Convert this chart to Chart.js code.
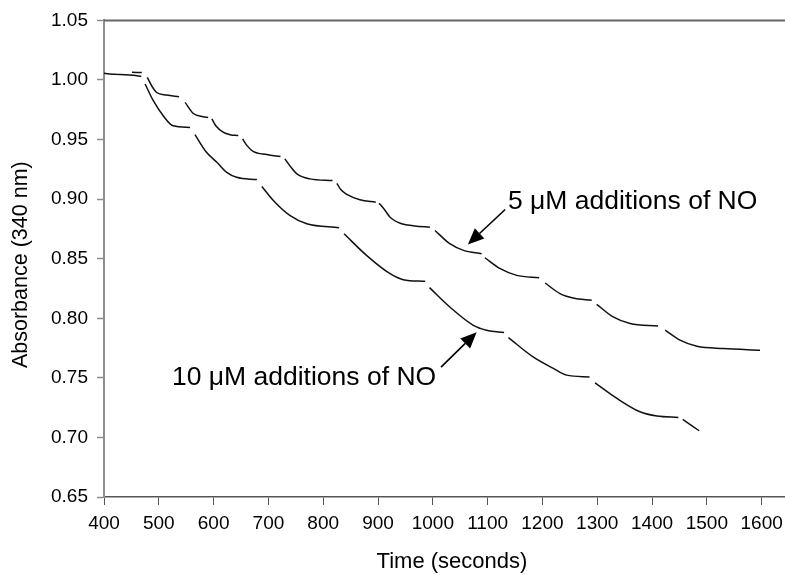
<!DOCTYPE html>
<html>
<head>
<meta charset="utf-8">
<script src="https://cdn.jsdelivr.net/npm/chart.js@4.4.1/dist/chart.umd.min.js"></script>
<style>
  html, body { margin: 0; padding: 0; background: #fff; overflow: hidden; }
  #wrap { width: 800px; height: 575px; }
</style>
</head>
<body>
<div id="wrap"><canvas id="chart" width="800" height="575"></canvas></div>
<script>
// traces, null = break in the trace (NO addition)
const time10 = [400, 420, 438, 453, 468, null,
  475, 490, 508, 526, 557, null,
  566, 587, 606, 624, 642, 679, null,
  688, 709, 739, 770, 829, null,
  838, 879, 922, 946, 986, null,
  994, 1031, 1074, 1098, 1130, null,
  1138, 1183, 1220, 1244, 1286, null,
  1296, 1336, 1378, 1409, 1448, null,
  1456, 1486];
const abs10 = [1.0056, 1.0048, 1.0044, 1.0039, 1.0031, null,
  0.9966, 0.9826, 0.9700, 0.9616, 0.9602, null,
  0.9541, 0.9393, 0.9309, 0.9225, 0.9183, 0.9164, null,
  0.9106, 0.8988, 0.8863, 0.8793, 0.8760, null,
  0.8709, 0.8528, 0.8374, 0.8324, 0.8310, null,
  0.8257, 0.8095, 0.7941, 0.7900, 0.7880, null,
  0.7838, 0.7676, 0.7579, 0.7523, 0.7508, null,
  0.7458, 0.7327, 0.7215, 0.7179, 0.7168, null,
  0.7152, 0.7056];

const time5 = [451, 469, null,
  479, 488, 496, 514, 537, null,
  548, 563, 581, 590, null,
  597, 604, 618, 630, 645, null,
  653, 661, 672, 697, 722, null,
  730, 739, 752, 776, 817, null,
  825, 832, 843, 867, 896, null,
  902, 913, 922, 943, 967, 995, null,
  1004, 1031, 1056, 1089, null,
  1095, 1123, 1153, 1194, null,
  1205, 1232, 1256, 1290, null,
  1299, 1329, 1360, 1411, null,
  1424, 1451, 1482, 1530, 1597];
const abs5 = [1.0064, 1.0062, null,
  1.0021, 0.9943, 0.9895, 0.9874, 0.9859, null,
  0.9812, 0.9719, 0.9692, 0.9686, null,
  0.9673, 0.9616, 0.9560, 0.9541, 0.9533, null,
  0.9505, 0.9449, 0.9401, 0.9374, 0.9357, null,
  0.9338, 0.9281, 0.9212, 0.9170, 0.9156, null,
  0.9133, 0.9080, 0.9039, 0.8994, 0.8974, null,
  0.8966, 0.8905, 0.8848, 0.8793, 0.8775, 0.8765, null,
  0.8737, 0.8626, 0.8570, 0.8542, null,
  0.8508, 0.8416, 0.8360, 0.8341, null,
  0.8296, 0.8207, 0.8170, 0.8151, null,
  0.8117, 0.8011, 0.7956, 0.7935, null,
  0.7900, 0.7816, 0.7765, 0.7746, 0.7732];

const xTicks = [400, 500, 600, 700, 800, 900, 1000, 1100, 1200, 1300, 1400, 1500, 1600];
const yTicks = [0.65, 0.70, 0.75, 0.80, 0.85, 0.90, 0.95, 1.00, 1.05];

const label5 = "5 \u03bcM additions of NO";
const label10 = "10 \u03bcM additions of NO";

const FONT = '"Liberation Sans", Arial, sans-serif';
Chart.defaults.font.family = FONT;
Chart.defaults.color = "#000";

function toPoints(t, a) {
  return t.map((v, i) => ({ x: v, y: a[i] }));
}

function arrow(ctx, x1, y1, x2, y2) {
  const ang = Math.atan2(y2 - y1, x2 - x1);
  const len = 16, half = 7;
  const bx = x2 - len * Math.cos(ang), by = y2 - len * Math.sin(ang);
  ctx.beginPath();
  ctx.moveTo(x1, y1);
  ctx.lineTo(bx, by);
  ctx.stroke();
  ctx.beginPath();
  ctx.moveTo(x2, y2);
  ctx.lineTo(bx + half * Math.sin(ang), by - half * Math.cos(ang));
  ctx.lineTo(bx - half * Math.sin(ang), by + half * Math.cos(ang));
  ctx.closePath();
  ctx.fill();
}

// labels, arrows and the top frame line
const notes = {
  id: "notes",
  afterDraw(chart) {
    const { ctx, chartArea, scales: { x, y } } = chart;
    ctx.save();
    ctx.strokeStyle = "#666";
    ctx.lineWidth = 2;
    ctx.beginPath();
    ctx.moveTo(chartArea.left, chartArea.top);
    ctx.lineTo(chartArea.right, chartArea.top);
    ctx.stroke();

    ctx.fillStyle = "#000";
    ctx.strokeStyle = "#000";
    ctx.lineWidth = 1.6;
    ctx.font = "26.5px " + FONT;
    ctx.textBaseline = "alphabetic";
    ctx.fillText(label5, x.getPixelForValue(1137), y.getPixelForValue(0.8913));
    ctx.fillText(label10, x.getPixelForValue(524), y.getPixelForValue(0.7439));
    arrow(ctx, x.getPixelForValue(1132), y.getPixelForValue(0.8913),
      x.getPixelForValue(1064), y.getPixelForValue(0.8620));
    arrow(ctx, x.getPixelForValue(1015), y.getPixelForValue(0.7590),
      x.getPixelForValue(1080), y.getPixelForValue(0.7883));
    ctx.restore();
  }
};

const lineStyle = {
  borderColor: "#111",
  borderWidth: 1.5,
  pointRadius: 0,
  fill: false,
  spanGaps: false,
  cubicInterpolationMode: "monotone"
};

new Chart(document.getElementById("chart"), {
  type: "line",
  data: {
    datasets: [
      { label: label10, data: toPoints(time10, abs10), ...lineStyle },
      { label: label5, data: toPoints(time5, abs5), ...lineStyle }
    ]
  },
  options: {
    responsive: false,
    animation: false,
    layout: { padding: { top: 19, right: 0, bottom: 0, left: 0 } },
    plugins: { legend: { display: false }, tooltip: { enabled: false } },
    scales: {
      x: {
        type: "linear",
        min: 400,
        max: 1670,
        afterBuildTicks: (s) => { s.ticks = xTicks.map(v => ({ value: v })); },
        afterFit: (s) => { s.height = 78; },
        ticks: { font: { size: 19 }, padding: 7, maxRotation: 0, autoSkip: false,
          callback: (v) => String(v) },
        grid: { drawOnChartArea: false, tickLength: 8, tickColor: "#555", tickWidth: 1 },
        border: { color: "#555", width: 1.5 },
        title: { display: true, text: "Time (seconds)", font: { size: 22 }, padding: { bottom: 0 } }
      },
      y: {
        min: 0.65,
        max: 1.05,
        afterBuildTicks: (s) => { s.ticks = yTicks.map(v => ({ value: v })); },
        afterFit: (s) => { s.width = 104; },
        ticks: { font: { size: 19 }, padding: 9, callback: (v) => v.toFixed(2) },
        grid: { drawOnChartArea: false, tickLength: 7, tickColor: "#8c8c8c", tickWidth: 1.5 },
        border: { color: "#8c8c8c", width: 2 },
        title: { display: true, text: "Absorbance (340 nm)\u00a0\u00a0", font: { size: 21.5 }, padding: { top: 8 } }
      }
    }
  },
  plugins: [notes]
});
</script>
</body>
</html>
